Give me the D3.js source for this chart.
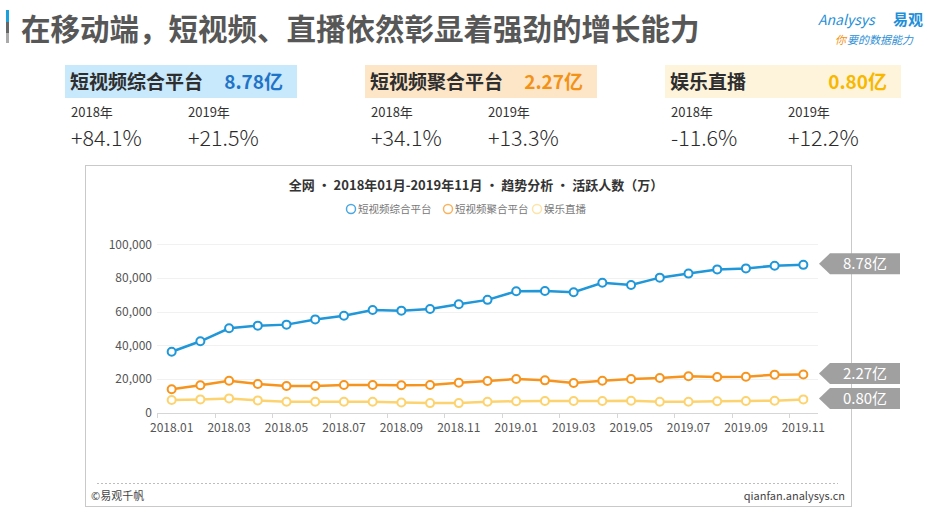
<!DOCTYPE html>
<html>
<head>
<meta charset="utf-8">
<script src="https://cdn.jsdelivr.net/npm/d3@7"></script>
<style>
  body { margin: 0; background: #fff; }
  text { font-family: "Noto Sans CJK SC", "Noto Sans", sans-serif; }
</style>
</head>
<body>
<svg id="chart" width="947" height="516"></svg>
<script>
// data (万人)
var months = ['2018.01', '2018.02', '2018.03', '2018.04', '2018.05', '2018.06', '2018.07', '2018.08',
  '2018.09', '2018.10', '2018.11', '2018.12', '2019.01', '2019.02', '2019.03', '2019.04', '2019.05',
  '2019.06', '2019.07', '2019.08', '2019.09', '2019.10', '2019.11'];
var shortVideo = [36200, 42400, 50100, 51700, 52300, 55400, 57600, 61000, 60600, 61600, 64400, 67000,
  72100, 72300, 71500, 77200, 75800, 80200, 82600, 85100, 85700, 87300, 87800];
var aggregator = [13900, 16300, 19000, 17000, 15900, 15900, 16400, 16400, 16300, 16400, 17800, 18800,
  20000, 19200, 17600, 19000, 20000, 20600, 21600, 21200, 21400, 22600, 22700];
var liveShow = [7500, 7900, 8500, 7300, 6500, 6500, 6500, 6500, 6100, 5700, 5700, 6500,
  6800, 7000, 7000, 7000, 7100, 6500, 6500, 6800, 7000, 7100, 7900];
var seriesNames = ['短视频综合平台', '短视频聚合平台', '娱乐直播'];
var endLabels = ['8.78亿', '2.27亿', '0.80亿'];
var yTicks = [0, 20000, 40000, 60000, 80000, 100000];

// kpi cards
var cardTitles = ['短视频综合平台', '短视频聚合平台', '娱乐直播'];
var cardTotals = ['8.78亿', '2.27亿', '0.80亿'];
var cardYears = ['2018年', '2019年'];
var growth2018 = ['+84.1%', '+34.1%', '-11.6%'];
var growth2019 = ['+21.5%', '+13.3%', '+12.2%'];

var lineColors = ['#1f97d9', '#f7941d', '#fdd36f'];
var legendColors = ['#4aa8e2', '#f9b35e', '#fde4a8'];
var cardFills = ['#c8e8fb', '#fde6c8', '#fef4dc'];
var cardValueColors = ['#1f74c8', '#f39216', '#f8b800'];

var svg = d3.select('#chart');

// page title + accent bar
svg.append('rect').attr('x', 6).attr('y', 10).attr('width', 3).attr('height', 12).attr('fill', '#1aa0dc');
svg.append('rect').attr('x', 6).attr('y', 22).attr('width', 3).attr('height', 11).attr('fill', '#666');
svg.append('rect').attr('x', 6).attr('y', 33).attr('width', 3).attr('height', 10).attr('fill', '#aaa');

svg.append('text')
  .attr('x', 21)
  .attr('y', 40)
  .attr('font-size', 29.5)
  .attr('font-weight', 'bold')
  .attr('fill', '#575757')
  .text('在移动端，短视频、直播依然彰显着强劲的增长能力');

// logo
var logo = svg.append('g');
logo.append('text')
  .attr('x', 818).attr('y', 25)
  .attr('font-size', 14)
  .attr('font-style', 'italic')
  .attr('fill', '#1f8fd8')
  .text('Analysys');
logo.append('text')
  .attr('x', 893).attr('y', 25)
  .attr('font-size', 15)
  .attr('font-weight', 'bold')
  .attr('fill', '#1f8fd8')
  .text('易观');
var slogan = logo.append('text')
  .attr('x', 835).attr('y', 44)
  .attr('font-size', 11)
  .attr('font-style', 'italic');
slogan.append('tspan').attr('fill', '#f39214').text('你');
slogan.append('tspan').attr('fill', '#2d8fd5').attr('dx', 1).text('要的数据能力');

// kpi cards
var cardX = [65, 365, 665];
var cardW = [232, 232, 236];
var yearOffsets = [0, 117];

var cards = svg.selectAll('.card')
  .data(cardTitles)
  .enter().append('g')
  .attr('class', 'card')
  .attr('transform', function(d, i) { return 'translate(' + cardX[i] + ',0)'; });

cards.append('rect')
  .attr('x', 0).attr('y', 65)
  .attr('width', function(d, i) { return cardW[i]; })
  .attr('height', 33)
  .attr('fill', function(d, i) { return cardFills[i]; });

cards.append('text')
  .attr('x', 5).attr('y', 89)
  .attr('font-size', 19)
  .attr('font-weight', 'bold')
  .attr('fill', '#2e2e2e')
  .text(function(d) { return d; });

cards.append('text')
  .attr('x', function(d, i) { return cardW[i] - 14; })
  .attr('y', 89)
  .attr('text-anchor', 'end')
  .attr('font-size', 19)
  .attr('font-weight', 'bold')
  .attr('fill', function(d, i) { return cardValueColors[i]; })
  .text(function(d, i) { return cardTotals[i]; });

yearOffsets.forEach(function(off, k) {
  cards.append('text')
    .attr('x', 6 + off).attr('y', 117)
    .attr('font-size', 13)
    .attr('fill', '#333')
    .text(cardYears[k]);
  cards.append('text')
    .attr('x', 6 + off).attr('y', 146)
    .attr('font-size', 21.5)
    .attr('font-weight', 300)
    .attr('font-family', '"Noto Sans", sans-serif')
    .attr('fill', '#2b2b2b')
    .text(function(d, i) { return k == 0 ? growth2018[i] : growth2019[i]; });
});

// chart frame
svg.append('rect')
  .attr('x', 85.5).attr('y', 165.5)
  .attr('width', 766).attr('height', 341)
  .attr('fill', 'none')
  .attr('stroke', '#c9c9c9');

svg.append('text')
  .attr('x', 476).attr('y', 190)
  .attr('text-anchor', 'middle')
  .attr('font-size', 13)
  .attr('font-weight', 'bold')
  .attr('fill', '#333')
  .text('全网 • 2018年01月-2019年11月 • 趋势分析 • 活跃人数（万）');

// legend
var legendX = [346, 443, 532];
var legend = svg.selectAll('.legend')
  .data(seriesNames)
  .enter().append('g')
  .attr('class', 'legend')
  .attr('transform', function(d, i) { return 'translate(' + legendX[i] + ',209)'; });
legend.append('circle')
  .attr('cx', 5).attr('cy', 0).attr('r', 4.5)
  .attr('fill', '#fff')
  .attr('stroke', function(d, i) { return legendColors[i]; })
  .attr('stroke-width', 1.5);
legend.append('text')
  .attr('x', 12).attr('y', 4)
  .attr('font-size', 10.5)
  .attr('fill', '#777')
  .text(function(d) { return d; });

// scales
var x = d3.scaleBand()
  .domain(months)
  .range([157.3, 817.7]);

var y = d3.scaleLinear()
  .domain([0, 100000])
  .range([412.7, 244.3]);

// grid
svg.append('g')
  .selectAll('line')
  .data(yTicks.slice(1))
  .enter().append('line')
  .attr('x1', 157).attr('x2', 818)
  .attr('y1', function(d) { return Math.round(y(d)) + 0.5; })
  .attr('y2', function(d) { return Math.round(y(d)) + 0.5; })
  .attr('stroke', '#f1f1f1');

// y axis
var yAxis = svg.append('g')
  .attr('transform', 'translate(152,0)')
  .call(d3.axisLeft(y).tickValues(yTicks).tickFormat(d3.format(',')).tickSize(0).tickPadding(0));
yAxis.select('.domain').remove();
yAxis.selectAll('text')
  .attr('font-size', 12)
  .attr('fill', '#555')
  .attr('font-family', '"Noto Sans", sans-serif');

// x axis
var xAxis = svg.append('g')
  .attr('transform', 'translate(0,413)')
  .call(d3.axisBottom(x)
    .tickValues(months.filter(function(d, i) { return i % 2 == 0; }))
    .tickSize(0)
    .tickPadding(10));
xAxis.select('.domain').attr('stroke', '#d6d6d6').attr('d', 'M157,0.5H818');
xAxis.selectAll('text')
  .attr('font-size', 12)
  .attr('fill', '#555')
  .attr('font-family', '"Noto Sans", sans-serif');

svg.append('g')
  .selectAll('line')
  .data(months.filter(function(d, i) { return i % 2 == 0; }))
  .enter().append('line')
  .attr('x1', function(d) { return Math.round(x(d)) + 0.5; })
  .attr('x2', function(d) { return Math.round(x(d)) + 0.5; })
  .attr('y1', 413).attr('y2', 418)
  .attr('stroke', '#d6d6d6');

// lines
var line = d3.line()
  .x(function(d, i) { return x(months[i]) + x.bandwidth() / 2; })
  .y(function(d) { return y(d); });

var allSeries = [liveShow, aggregator, shortVideo];
var colorOrder = [lineColors[2], lineColors[1], lineColors[0]];

allSeries.forEach(function(s, k) {
  svg.append('path')
    .datum(s)
    .attr('d', line)
    .attr('fill', 'none')
    .attr('stroke', colorOrder[k])
    .attr('stroke-width', 2.5);

  svg.append('g')
    .selectAll('circle')
    .data(s)
    .enter().append('circle')
    .attr('cx', function(d, i) { return x(months[i]) + x.bandwidth() / 2; })
    .attr('cy', function(d) { return y(d); })
    .attr('r', 4)
    .attr('fill', '#fff')
    .attr('stroke', colorOrder[k])
    .attr('stroke-width', 2);
});

// end labels (arrow tags)
var lastValues = [shortVideo[shortVideo.length - 1], aggregator[aggregator.length - 1], liveShow[liveShow.length - 1]];
var tags = svg.selectAll('.tag')
  .data(lastValues)
  .enter().append('g')
  .attr('class', 'tag')
  .attr('transform', function(d) { return 'translate(819,' + (y(d) - 1) + ')'; });
tags.append('path')
  .attr('d', 'M0,0L11,-10.5H81V10.5H11Z')
  .attr('fill', '#a0a0a0');
tags.append('text')
  .attr('x', 46).attr('y', 5.5)
  .attr('text-anchor', 'middle')
  .attr('font-size', 15)
  .attr('fill', '#fff')
  .text(function(d, i) { return endLabels[i]; });

// footer
svg.append('line')
  .attr('x1', 97).attr('x2', 838)
  .attr('y1', 483.5).attr('y2', 483.5)
  .attr('stroke', '#bdbdbd')
  .attr('stroke-dasharray', '2,2');
svg.append('text')
  .attr('x', 91).attr('y', 500)
  .attr('font-size', 11)
  .attr('fill', '#444')
  .text('©易观千帆');
svg.append('text')
  .attr('x', 845).attr('y', 500)
  .attr('text-anchor', 'end')
  .attr('font-size', 11)
  .attr('fill', '#444')
  .text('qianfan.analysys.cn');
</script>
</body>
</html>
